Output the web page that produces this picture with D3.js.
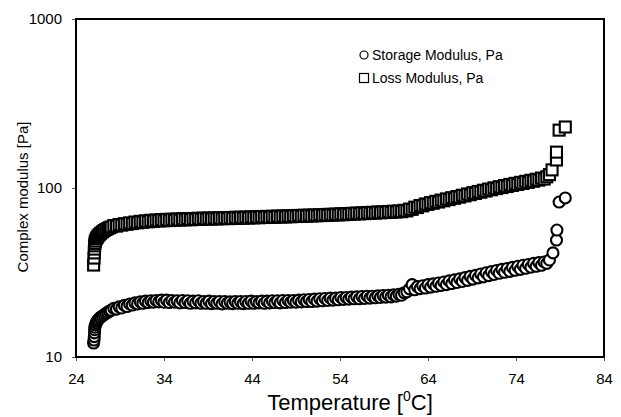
<!DOCTYPE html>
<html>
<head>
<meta charset="utf-8">
<script src="https://cdn.jsdelivr.net/npm/d3@7"></script>
<style>
  html, body { margin: 0; padding: 0; background: #fff; }
  svg { display: block; font-family: Arial, "Liberation Sans", sans-serif; }
</style>
</head>
<body>
<svg id="chart" width="621" height="417"></svg>
<script>
// ---- data ----
const xTicks = [24, 34, 44, 54, 64, 74, 84];
const yTicks = [10, 100, 1000];

const temperature = [
  26.0, 26.05, 26.08, 26.1, 26.12, 26.15, 26.2, 26.3, 26.4, 26.5, 26.65, 26.8, 27.0, 27.2, 27.4, 27.6, 27.8,
  28.0, 28.3, 28.6, 28.9, 29.2, 29.5, 29.8, 30.1, 30.4, 30.7,
  31.0, 31.3, 31.6, 31.9, 32.2, 32.5, 32.8, 33.1, 33.4, 33.7,
  34.0, 34.3, 34.6, 34.9, 35.2, 35.5, 35.8, 36.1, 36.4, 36.7,
  37.0, 37.3, 37.6, 37.9, 38.2, 38.5, 38.8, 39.1, 39.4, 39.7,
  40.0, 40.3, 40.6, 40.9, 41.2, 41.5, 41.8, 42.1, 42.4, 42.7,
  43.0, 43.3, 43.6, 43.9, 44.2, 44.5, 44.8, 45.1, 45.4, 45.7,
  46.0, 46.3, 46.6, 46.9, 47.2, 47.5, 47.8, 48.1, 48.4, 48.7,
  49.0, 49.3, 49.6, 49.9, 50.2, 50.5, 50.8, 51.1, 51.4, 51.7,
  52.0, 52.3, 52.6, 52.9, 53.2, 53.5, 53.8, 54.1, 54.4, 54.7,
  55.0, 55.3, 55.6, 55.9, 56.2, 56.5, 56.8, 57.1, 57.4, 57.7,
  58.0, 58.3, 58.6, 58.9, 59.2, 59.5, 59.8, 60.1, 60.4, 60.7,
  61.0, 61.3, 61.6, 61.9, 62.2, 62.5, 62.8, 63.1, 63.4, 63.7,
  64.0, 64.3, 64.6, 64.9, 65.2, 65.5, 65.8, 66.1, 66.4, 66.7,
  67.0, 67.3, 67.6, 67.9, 68.2, 68.5, 68.8, 69.1, 69.4, 69.7,
  70.0, 70.3, 70.6, 70.9, 71.2, 71.5, 71.8, 72.1, 72.4, 72.7,
  73.0, 73.3, 73.6, 73.9, 74.2, 74.5, 74.8, 75.1, 75.4, 75.7,
  76.0, 76.3, 76.6, 76.9, 77.2, 77.5, 77.8
];

const storageModulus = [
  12.1, 12.6, 13.2, 13.9, 14.5, 15.0, 15.5, 15.9, 16.3, 16.6, 16.9, 17.2, 17.5, 17.8, 18.1, 18.4, 18.7,
  18.9, 19.4, 19.2, 19.8, 19.5, 20.2, 19.9, 20.6, 20.3, 20.9,
  20.6, 21.2, 20.8, 21.4, 21.0, 21.5, 21.1, 21.6, 21.2, 21.7,
  21.1, 21.7, 21.0, 21.6, 21.1, 21.5, 20.9, 21.6, 21.0, 21.5,
  20.8, 21.4, 20.9, 21.5, 20.8, 21.3, 20.8, 21.4, 20.7, 21.3,
  20.8, 21.3, 20.6, 21.3, 20.8, 21.2, 20.7, 21.3, 20.8, 21.3,
  20.7, 21.3, 20.8, 21.4, 20.8, 21.3, 20.9, 21.4, 20.8, 21.4,
  20.9, 21.5, 21.0, 21.5, 20.9, 21.6, 21.0, 21.6, 21.1, 21.6,
  21.1, 21.7, 21.2, 21.8, 21.3, 21.9, 21.3, 22.0, 21.4, 22.1,
  21.5, 22.2, 21.6, 22.3, 21.7, 22.3, 21.8, 22.5, 21.9, 22.5,
  22.0, 22.6, 22.1, 22.7, 22.1, 22.8, 22.2, 22.9, 22.3, 22.9,
  22.4, 23.0, 22.5, 23.1, 22.6, 23.2, 22.7, 23.3, 22.9, 23.5,
  23.2, 24.0, 24.3, 25.3, 26.8, 25.0, 26.1, 25.4, 26.4, 25.6,
  26.8, 25.9, 27.1, 26.2, 27.4, 26.5, 27.8, 26.8, 28.2, 27.2,
  28.6, 27.6, 29.0, 28.0, 29.5, 28.4, 30.0, 28.9, 30.4, 29.4,
  31.0, 29.8, 31.5, 30.3, 32.0, 30.8, 32.5, 31.3, 33.0, 31.7,
  33.4, 32.1, 33.9, 32.6, 34.4, 33.0, 34.9, 33.5, 35.3, 34.0,
  35.8, 34.4, 36.2, 34.9, 36.5, 35.8, 37.5
];

const lossModulus = [
  35.0, 38.5, 41.3, 43.5, 45.5, 47.0, 48.5, 50.0, 51.0, 52.0, 53.0, 54.0, 55.0, 56.0, 56.8, 57.5, 58.2,
  58.8, 59.9, 59.5, 60.8, 60.3, 61.5, 61.0, 62.2, 61.6, 62.9,
  62.2, 63.5, 62.7, 63.9, 63.1, 64.4, 63.5, 64.7, 63.8, 65.0,
  64.0, 65.2, 64.2, 65.4, 64.4, 65.6, 64.6, 65.7, 64.8, 65.9,
  64.9, 66.0, 65.1, 66.2, 65.2, 66.3, 65.4, 66.4, 65.5, 66.5,
  65.6, 66.7, 65.8, 66.8, 65.9, 66.9, 66.0, 67.1, 66.2, 67.2,
  66.3, 67.3, 66.4, 67.5, 66.6, 67.6, 66.7, 67.8, 66.9, 67.9,
  67.0, 68.0, 67.1, 68.2, 67.3, 68.3, 67.4, 68.5, 67.6, 68.6,
  67.8, 68.8, 67.9, 69.0, 68.1, 69.1, 68.3, 69.3, 68.5, 69.5,
  68.7, 69.7, 68.9, 69.9, 69.1, 70.1, 69.3, 70.4, 69.5, 70.6,
  69.8, 70.8, 70.0, 71.1, 70.3, 71.3, 70.5, 71.6, 70.8, 71.8,
  71.0, 72.1, 71.3, 72.3, 71.6, 72.6, 71.8, 72.9, 72.1, 73.2,
  72.4, 73.8, 73.2, 75.0, 74.8, 77.0, 76.6, 78.8, 78.4, 80.4,
  80.0, 81.9, 81.3, 83.4, 82.6, 84.8, 84.0, 86.2, 85.4, 87.6,
  86.9, 89.0, 88.3, 90.6, 89.8, 92.2, 91.3, 93.8, 92.8, 95.4,
  94.4, 97.0, 96.0, 98.6, 97.6, 100.2, 99.2, 101.8, 100.6, 103.4,
  102.0, 105.0, 103.5, 106.5, 105.0, 108.0, 106.4, 109.5, 108.0, 111.0,
  109.6, 112.6, 111.3, 114.5, 113.0, 116.5, 120.0
];

// end-of-test points
const storageTailTemp = [78.2, 78.6, 78.65, 78.9, 79.6];
const storageTailValue = [41.3, 49.2, 56.4, 82.6, 87.3];
const lossTailTemp = [78.1, 78.6, 78.6, 78.9, 79.6];
const lossTailValue = [128, 146.5, 163, 220, 229.6];

const seriesNames = ["Storage Modulus, Pa", "Loss Modulus, Pa"];
const xTitle = "Temperature [";
const yTitle = "Complex modulus [Pa]";

(function () {
const svg = d3.select("#chart");
const pL = 76, pR = 604, pT = 19, pB = 357;

const x = d3.scaleLinear().domain([24, 84]).range([pL, pR]);
const y = d3.scaleLog().domain([10, 1000]).range([pB, pT]);

const storage = temperature.map((t, i) => ({t, v: storageModulus[i]}))
  .concat(storageTailTemp.map((t, i) => ({t, v: storageTailValue[i]})));
const loss = temperature.map((t, i) => ({t, v: lossModulus[i]}))
  .concat(lossTailTemp.map((t, i) => ({t, v: lossTailValue[i]})));

const ff = "Arial, 'Liberation Sans', sans-serif";

const xAxis = svg.append("g")
  .attr("transform", `translate(0,${pB})`)
  .call(d3.axisBottom(x).tickValues(xTicks).tickSize(4).tickPadding(12).tickFormat(d3.format("d")));
xAxis.select(".domain").remove();
xAxis.selectAll("line").attr("stroke", "#555");
xAxis.selectAll("text").attr("font-size", 15).attr("fill", "#000").style("font-family", ff);

const yAxis = svg.append("g")
  .attr("transform", `translate(${pL},0)`)
  .call(d3.axisLeft(y).tickValues(yTicks).tickSize(4).tickPadding(10).tickFormat(d3.format("d")));
yAxis.select(".domain").remove();
yAxis.selectAll("line").attr("stroke", "#555");
yAxis.selectAll("text").attr("font-size", 15).attr("fill", "#000").style("font-family", ff);

svg.append("g").selectAll("circle").data(storage).join("circle")
  .attr("cx", d => x(d.t)).attr("cy", d => y(d.v)).attr("r", 5.5)
  .attr("fill", "#fff").attr("stroke", "#000").attr("stroke-width", 2.1);

const sq = 11;
svg.append("g").selectAll("rect").data(loss).join("rect")
  .attr("x", d => x(d.t) - sq / 2).attr("y", d => y(d.v) - sq / 2)
  .attr("width", sq).attr("height", sq)
  .attr("fill", "#fff").attr("stroke", "#000").attr("stroke-width", 2.1);

svg.append("rect")
  .attr("x", pL).attr("y", pT)
  .attr("width", pR - pL).attr("height", pB - pT)
  .attr("fill", "none").attr("stroke", "#000").attr("stroke-width", 2);

const lg = svg.append("g");
lg.append("circle").attr("cx", 364).attr("cy", 55).attr("r", 4)
  .attr("fill", "#fff").attr("stroke", "#000").attr("stroke-width", 1.2);
lg.append("text").attr("x", 372).attr("y", 60).attr("font-size", 14).text(seriesNames[0]);
lg.append("rect").attr("x", 359.5).attr("y", 73.5).attr("width", 9).attr("height", 9)
  .attr("fill", "#fff").attr("stroke", "#000").attr("stroke-width", 1.2);
lg.append("text").attr("x", 372).attr("y", 83).attr("font-size", 14).text(seriesNames[1]);

const xt = svg.append("text").attr("x", 350).attr("y", 410)
  .attr("text-anchor", "middle").attr("font-size", 22);
xt.append("tspan").text(xTitle);
xt.append("tspan").attr("font-size", 14).attr("dy", -9).text("0");
xt.append("tspan").attr("dy", 9).text("C]");

svg.append("text")
  .attr("transform", "translate(28,197) rotate(-90)")
  .attr("text-anchor", "middle").attr("font-size", 15)
  .text(yTitle);
})();
</script>
</body>
</html>
